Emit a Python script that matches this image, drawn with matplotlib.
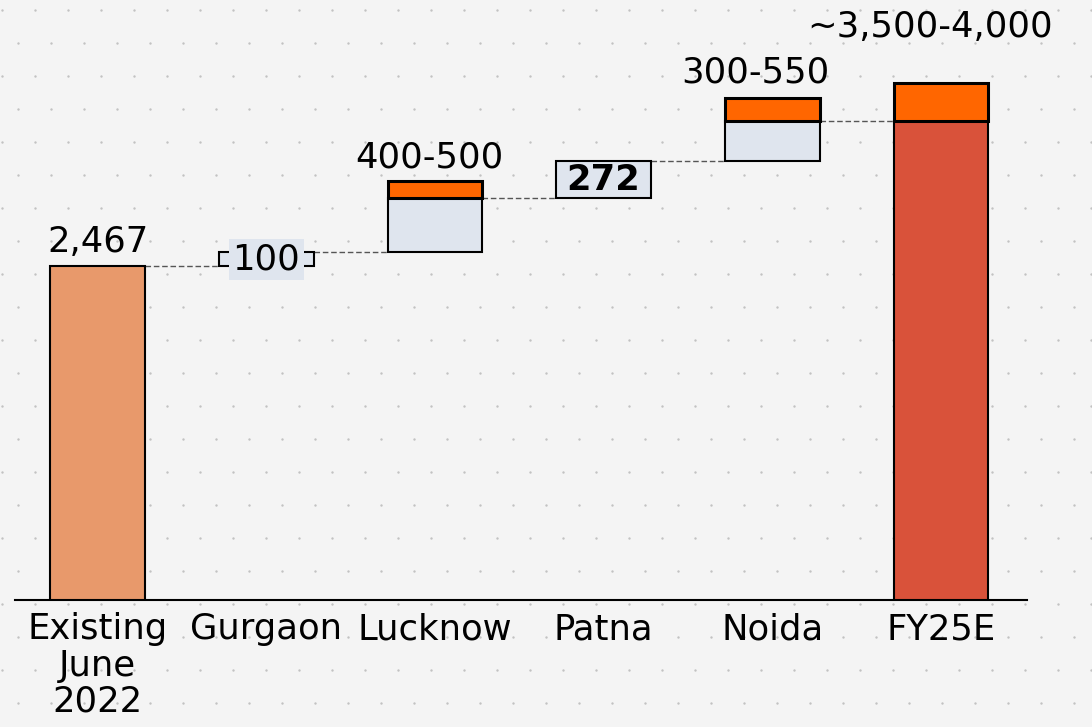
import matplotlib.pyplot as plt
import numpy as np

categories = ["Existing\nJune\n2022", "Gurgaon", "Lucknow", "Patna", "Noida", "FY25E"]
existing = 2467
city_add = [100, 400, 272, 300]      # firm addition per city (light box)
city_upside = [0, 125, 0, 170]       # upper range (orange)
fy25_upside = 280
top_labels = ["2,467", "100", "400-500", "272", "300-550", "~3,500-4,000"]

c_exist = "#E8996B"
c_box = "#DFE5EE"
c_orange = "#FF6600"
c_red = "#D9523A"
bg = "#F4F4F4"

plt.rcParams['font.family'] = ['DejaVu Sans']
fs = 25.5

fig = plt.figure(figsize=(10.92, 7.27), dpi=100)
fig.patch.set_facecolor(bg)

# dotted background texture
bgax = fig.add_axes([0, 0, 1, 1], zorder=0)
bgax.set_xlim(0, 1092)
bgax.set_ylim(727, 0)
bgax.axis("off")
for k, yy in enumerate(np.arange(10, 727, 33)):
    xs = np.arange(18 if k % 2 else 2, 1092, 33)
    bgax.scatter(xs, np.full(len(xs), yy), s=3, color="#C2C2C2", lw=0)

ax = fig.add_axes([15 / 1092, 127 / 727, 1012 / 1092, 600 / 727], zorder=1)
ax.patch.set_alpha(0)

x = np.arange(len(categories))
w = 0.56

# existing bar
ax.bar(x[0], existing, w, color=c_exist, edgecolor="black", lw=1.5, zorder=3)

# city steps
cum = existing
levels = [existing]
for i, (a, u) in enumerate(zip(city_add, city_upside)):
    xi = x[i + 1]
    ax.bar(xi, a, w, bottom=cum, color=c_box, edgecolor="black", lw=1.5, zorder=3)
    if u:
        ax.bar(xi, u, w, bottom=cum + a, color=c_orange, edgecolor="black", lw=2.2, zorder=3)
    cum += a
    levels.append(cum)

# FY25E bar
ax.bar(x[5], cum, w, color=c_red, edgecolor="black", lw=1.5, zorder=3)
ax.bar(x[5], fy25_upside, w, bottom=cum, color=c_orange, edgecolor="black", lw=2.2, zorder=3)

# connectors
for i, lv in enumerate(levels):
    ax.plot([x[i] + w / 2, x[i + 1] - w / 2], [lv, lv], ls=(0, (4, 2)), color="#555555", lw=1, zorder=2)

# labels above bars
tops = [existing, None, levels[2] + city_upside[1], None, levels[4] + city_upside[3], cum + fy25_upside]
offs = [5, None, 5, None, 6, 28]
dx = [0, 0, -4, 0, -12, -8]
for i in [0, 2, 4, 5]:
    ax.annotate(top_labels[i], (x[i], tops[i]), xytext=(dx[i], offs[i]), textcoords="offset points",
                ha="center", va="bottom", fontsize=fs, zorder=5)

# labels inside the small boxes
ax.text(x[1], levels[0] + city_add[0] / 2, top_labels[1], ha="center", va="center", fontsize=fs, zorder=5,
        bbox=dict(boxstyle="square,pad=0.1", fc=c_box, ec="none"))
ax.text(x[3], levels[2] + city_add[2] / 2, top_labels[3], ha="center", va="center", fontsize=fs,
        fontweight="bold", zorder=5)

ax.set_xlim(-0.49, 5.51)
ax.set_ylim(0, 4431)
ax.set_xticks(x)
ax.set_xticklabels(categories, fontsize=fs, linespacing=1.08)
ax.tick_params(axis="x", length=0, pad=9)
ax.set_yticks([])
for s in ["top", "left", "right"]:
    ax.spines[s].set_visible(False)
ax.spines["bottom"].set_linewidth(1.5)

fig.savefig("out.png", dpi=100, facecolor=bg)
